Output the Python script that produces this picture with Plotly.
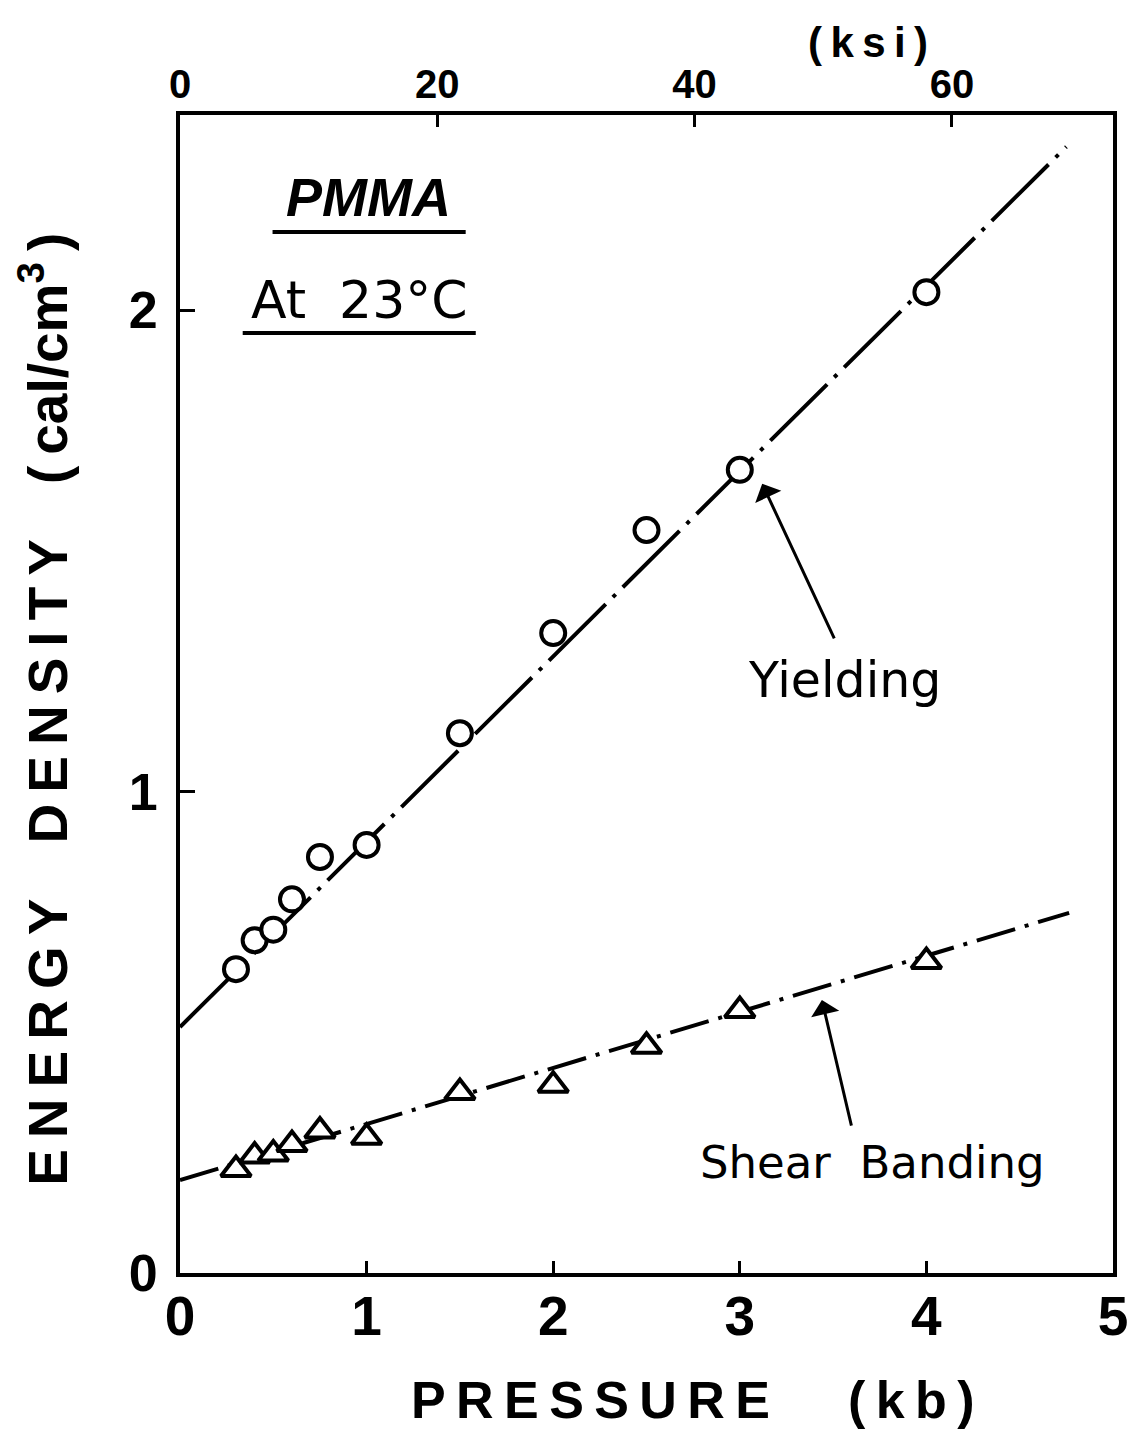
import plotly.graph_objects as go

# Conversion for the secondary (top) pressure scale
KSI_PER_KB = 14.5038

# Measured points: pressure (kb) and energy density (cal/cm^3)
pressure_kb = [0.3, 0.4, 0.5, 0.6, 0.75, 1.0, 1.5, 2.0, 2.5, 3.0, 4.0]
yield_energy = [0.631, 0.691, 0.713, 0.776, 0.864, 0.889, 1.121, 1.329, 1.543, 1.668, 2.037]
shear_energy = [0.215, 0.243, 0.247, 0.267, 0.295, 0.282, 0.375, 0.390, 0.471, 0.545, 0.647]

# Straight-line fits through each data set
yield_fit_kb = [0.0, 4.75]
yield_fit_energy = [0.511, 2.339]
shear_fit_kb = [0.0, 4.765]
shear_fit_energy = [0.193, 0.748]

# Axis ticks
x_ticks_kb = [0, 1, 2, 3, 4, 5]
x_ticks_ksi = [0, 20, 40, 60]
y_ticks = [0, 1, 2]

X_MAX = 5.0
Y_MAX = 2.405

TICK_FONT = "Liberation Sans, Arial, sans-serif"
TEXT_FONT = "DejaVu Sans, sans-serif"

fig = go.Figure()

fig.add_trace(go.Scatter(
    x=yield_fit_kb, y=yield_fit_energy, mode="lines",
    line=dict(color="black", width=4, dash="80px,10px,4px,10px"),
    showlegend=False, hoverinfo="skip"))
fig.add_trace(go.Scatter(
    x=shear_fit_kb, y=shear_fit_energy, mode="lines",
    line=dict(color="black", width=4, dash="40px,10px,4px,10px"),
    showlegend=False, hoverinfo="skip"))

fig.add_trace(go.Scatter(
    x=pressure_kb, y=yield_energy, mode="markers", name="Yielding",
    marker=dict(symbol="circle", size=24, color="white",
                line=dict(color="black", width=4)),
    showlegend=False))
fig.add_trace(go.Scatter(
    x=pressure_kb, y=shear_energy, mode="markers", name="Shear Banding",
    marker=dict(symbol="triangle-up", size=26, color="white",
                line=dict(color="black", width=4)),
    showlegend=False))

# Invisible trace that carries the ksi axis
fig.add_trace(go.Scatter(
    x=x_ticks_ksi, y=[None] * len(x_ticks_ksi), xaxis="x2",
    mode="markers", showlegend=False, hoverinfo="skip"))

# Underlines beneath the material / temperature labels
fig.add_shape(type="line", xref="x", yref="y", x0=0.496, x1=1.531, y0=2.162, y1=2.162,
              line=dict(color="black", width=4))
fig.add_shape(type="line", xref="x", yref="y", x0=0.336, x1=1.585, y0=1.952, y1=1.952,
              line=dict(color="black", width=4))

annotations = [
    dict(x=1.01, y=2.235, xref="x", yref="y", text="<b><i>PMMA</i></b>",
         showarrow=False, font=dict(family=TICK_FONT, size=54, color="black")),
    dict(x=0.96, y=2.02, xref="x", yref="y", text="At  23°C",
         showarrow=False, font=dict(family=TEXT_FONT, size=52, color="black")),
    dict(x=3.56, y=1.23, xref="x", yref="y", text="Yielding",
         showarrow=False, font=dict(family=TEXT_FONT, size=49, color="black")),
    dict(x=3.71, y=0.23, xref="x", yref="y", text="Shear  Banding",
         showarrow=False, font=dict(family=TEXT_FONT, size=45, color="black")),
    # arrows pointing at the curves
    dict(x=3.12, y=1.639, ax=3.51, ay=1.315, xref="x", yref="y", axref="x", ayref="y",
         text="", showarrow=True, arrowhead=1, arrowsize=1.6, arrowwidth=3,
         arrowcolor="black"),
    dict(x=3.44, y=0.567, ax=3.60, ay=0.303, xref="x", yref="y", axref="x", ayref="y",
         text="", showarrow=True, arrowhead=1, arrowsize=1.6, arrowwidth=3,
         arrowcolor="black"),
    # axis titles
    dict(x=0.55, y=-0.11, xref="paper", yref="paper", xanchor="center", yanchor="middle",
         text="<b>P\u2009R\u2009E\u2009S\u2009S\u2009U\u2009R\u2009E\u2003\u2002(\u2009k\u2009b\u2009)</b>",
         showarrow=False, font=dict(family=TICK_FONT, size=52, color="black")),
    dict(x=-0.146, y=0.487, xref="paper", yref="paper", xanchor="center", yanchor="middle",
         textangle=-90,
         text="<b>E\u2009N\u2009E\u2009R\u2009G\u2009Y\u2003D\u2009E\u2009N\u2009S\u2009I\u2009T\u2009Y\u2003(\u2009cal/cm<sup>3</sup>\u2009)</b>",
         showarrow=False, font=dict(family=TICK_FONT, size=55, color="black")),
    dict(x=0.737, y=1.063, xref="paper", yref="paper", xanchor="center", yanchor="middle",
         text="<b>(\u2009k\u2009s\u2009i\u2009)</b>",
         showarrow=False, font=dict(family=TICK_FONT, size=42, color="black")),
]

fig.update_layout(
    width=1130, height=1430,
    margin=dict(l=180, r=17, t=115, b=157, autoexpand=False),
    paper_bgcolor="white", plot_bgcolor="white",
    annotations=annotations,
    xaxis=dict(
        range=[0, X_MAX], tickvals=x_ticks_kb, ticktext=[str(v) for v in x_ticks_kb],
        ticks="inside", ticklen=12, tickwidth=3, tickcolor="black",
        showline=True, linewidth=4, linecolor="black", mirror=True,
        showgrid=False, zeroline=False, ticklabelstandoff=-8,
        ticklabeloverflow="allow", automargin=False,
        tickfont=dict(family=TICK_FONT, size=55, color="black", weight="bold"),
    ),
    xaxis2=dict(
        overlaying="x", side="top", range=[0, X_MAX * KSI_PER_KB],
        tickvals=x_ticks_ksi, ticktext=[str(v) for v in x_ticks_ksi],
        ticks="inside", ticklen=12, tickwidth=3, tickcolor="black",
        showline=False, showgrid=False, zeroline=False, ticklabelstandoff=8,
        automargin=False,
        tickfont=dict(family=TICK_FONT, size=40, color="black", weight="bold"),
    ),
    yaxis=dict(
        range=[0, Y_MAX], tickvals=y_ticks, ticktext=[str(v) for v in y_ticks],
        ticks="inside", ticklen=15, tickwidth=3, tickcolor="black",
        showline=True, linewidth=4, linecolor="black", mirror=True,
        showgrid=False, zeroline=False, ticklabelstandoff=8, automargin=False,
        tickfont=dict(family=TICK_FONT, size=52, color="black", weight="bold"),
    ),
)

fig.write_html("out.html")
